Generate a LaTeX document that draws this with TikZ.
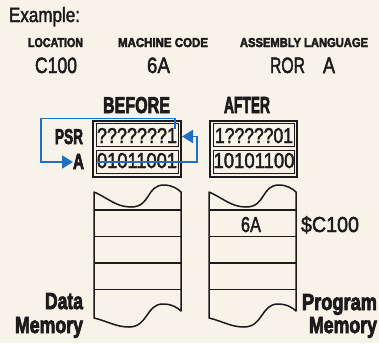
\documentclass[tikz,border=0pt]{standalone}
\usepackage{fontspec}
\setmainfont{Liberation Sans}
\newfontfamily\regf{Liberation Sans}[FakeBold=2.2]
\newfontfamily\blkf{Liberation Sans Bold}[FakeBold=3.6]
\usepackage{graphicx}
\usetikzlibrary{arrows.meta}
\definecolor{bg}{HTML}{F7F3E9}
\definecolor{ink}{HTML}{1C1A1A}
\definecolor{flowblue}{HTML}{1F6FC4}
\newcommand\fitt[3]{\resizebox{#1pt}{#2pt}{#3}}
\begin{document}
\begin{tikzpicture}[x=1pt,y=-1pt,
  txt/.style={inner sep=0pt, outer sep=0pt, text=ink, font=\fontsize{10}{12}\regf},
  bld/.style={txt, font=\fontsize{10}{12}\blkf},
  frame/.style={draw=ink, line width=1.5pt},
  cellbox/.style={draw=ink, line width=1pt, inner sep=0pt, minimum width=82pt, minimum height=22.5pt},
  flow/.style={draw=flowblue, line width=1.9pt},
  tip/.style={-{Triangle[length=11pt,width=13pt]}},
  mem/.style={draw=ink, line width=1.5pt, line join=round},
  memline/.style={draw=ink, line width=1.5pt}
]
\useasboundingbox (0,0) rectangle (379,343);
\fill[bg] (0,0) rectangle (379,343);

% header
\node[txt, anchor=base west] (example) at (9,22) {\fitt{71}{15}{Example:}};
\node[bld, anchor=base west] (loc) at (28,47) {\fitt{55}{9}{LOCATION}};
\node[bld, anchor=base west] (mc) at (118,47) {\fitt{90}{9}{MACHINE CODE}};
\node[bld, anchor=base west] (asm) at (240,47) {\fitt{128}{9}{ASSEMBLY LANGUAGE}};
\node[txt, anchor=base west] (c100) at (35,73) {\fitt{42}{15.5}{C100}};
\node[txt, anchor=base west] (code) at (147,73) {\fitt{23}{15.5}{6A}};
\node[txt, anchor=base west] (ror) at (270,73) {\fitt{35}{15.5}{ROR}};
\node[txt, anchor=base west] (opA) at (323,73) {\fitt{12}{15.5}{A}};

% before / after titles
\node[bld, anchor=base west] (before) at (103,113) {\fitt{67}{16}{BEFORE}};
\node[bld, anchor=base west] (after) at (224,113) {\fitt{46}{16}{AFTER}};

% register labels
\node[bld, anchor=base east] (psr) at (83,144) {\fitt{28}{15}{PSR}};
\node[bld, anchor=base east] (areg) at (84,169) {\fitt{11}{15}{A}};

% before registers
\draw[frame] (93,121) rectangle (181,177);
\node[cellbox] (psrB) at (137,135) {};
\node[cellbox] (accB) at (137,162) {};
\node[txt, anchor=base] (psrBv) at (137,143) {\fitt{80}{15}{???????1}};
\node[txt, anchor=base] (accBv) at (137,168) {\fitt{80}{15}{01011001}};

% after registers
\draw[frame] (210,121) rectangle (297,177);
\node[cellbox, minimum width=81pt] (psrA) at (253.5,135) {};
\node[cellbox, minimum width=81pt] (accA) at (253.5,162) {};
\node[txt, anchor=base] (psrAv) at (254,143) {\fitt{78}{15}{1?????01}};
\node[txt, anchor=base] (accAv) at (254,168) {\fitt{81}{15}{10101100}};

% blue flows
\coordinate (cbit) at (175,129);
\coordinate (ctop) at (175,118.5);
\coordinate (ltop) at (41,118.5);
\coordinate (lbot) at (41,162);
\coordinate (atip) at (73,162);
\draw[flow, tip] (cbit) -- (ctop) -- (ltop) -- (lbot) -- (atip);
\coordinate (bit0) at (98,162);
\coordinate (rbot) at (197,162);
\coordinate (rtop) at (197,136.5);
\coordinate (ptip) at (182,136.5);
\draw[flow, tip] (bit0) -- (rbot) -- (rtop) -- (ptip);

% memory stacks
\foreach \dx in {0,115} {
\begin{scope}[xshift=\dx pt]
\draw[mem] (94,192) .. controls (108,198) and (116,207) .. (131,207)
  .. controls (151,207) and (146,185) .. (164,185)
  .. controls (172,185) and (178,189) .. (181,192) -- (181,311)
  .. controls (178,308) and (172,304) .. (163,304)
  .. controls (146,304) and (148,327) .. (129,327)
  .. controls (116,327) and (107,321) .. (94,318) -- cycle;
\foreach \yy in {210,236.5,263,289.5} \draw[memline] (94,\yy) -- (181,\yy);
\end{scope}
}
\node[txt, anchor=base west] (sixa) at (241,232) {\fitt{20}{15}{6A}};
\node[txt, anchor=base west] (addr) at (301,232) {\fitt{58}{16}{\$C100}};

\node[bld, anchor=base east] (data) at (83,309) {\fitt{38}{16}{Data}};
\node[bld, anchor=base east] (dmem) at (83,333) {\fitt{68}{16}{Memory}};
\node[bld, anchor=base east] (prog) at (377,310) {\fitt{75}{16}{Program}};
\node[bld, anchor=base east] (pmem) at (377,333) {\fitt{68}{16}{Memory}};
\end{tikzpicture}
\end{document}
